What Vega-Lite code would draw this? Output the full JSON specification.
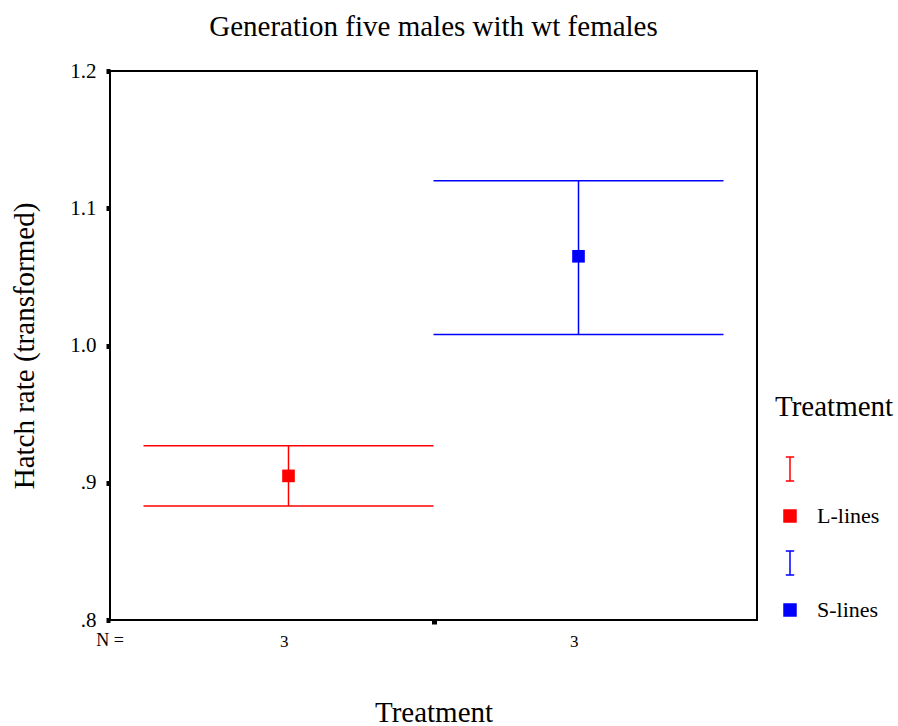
{
  "$schema": "https://vega.github.io/schema/vega-lite/v6.json",
  "width": 647,
  "height": 549,
  "autosize": "none",
  "padding": {"left": 110, "top": 71, "right": 141, "bottom": 106},
  "background": "white",
  "config": {
    "font": "Liberation Serif",
    "view": {"stroke": "black", "strokeWidth": 2},
    "axis": {"grid": false, "labelFont": "Liberation Serif", "titleFont": "Liberation Serif", "titleFontWeight": "normal", "labelColor": "black", "titleColor": "black"},
    "legend": {"labelFont": "Liberation Serif", "titleFont": "Liberation Serif", "titleFontWeight": "normal"}
  },
  "title": {
    "text": "Generation five males with wt females",
    "font": "Liberation Serif",
    "fontSize": 29,
    "fontWeight": "normal",
    "color": "black",
    "anchor": "middle",
    "offset": 18
  },
  "data": {
    "values": [
      {"Treatment": "L-lines", "mean": 0.905, "lower": 0.883, "upper": 0.927, "N": 3},
      {"Treatment": "S-lines", "mean": 1.065, "lower": 1.008, "upper": 1.12, "N": 3}
    ]
  },
  "layer": [
    {
      "layer": [
        {
          "mark": {"type": "rule", "strokeWidth": 1.5},
          "encoding": {
            "x": {"field": "Treatment", "type": "nominal"},
            "y": {"field": "lower", "type": "quantitative"},
            "y2": {"field": "upper"},
            "color": {"field": "Treatment", "type": "nominal", "title": "Treatment"}
          }
        },
        {
          "mark": {"type": "tick", "size": 290, "thickness": 1.5, "opacity": 1},
          "encoding": {
            "x": {"field": "Treatment", "type": "nominal"},
            "y": {"field": "lower", "type": "quantitative"},
            "color": {"field": "Treatment", "type": "nominal", "title": "Treatment"}
          }
        },
        {
          "mark": {"type": "tick", "size": 290, "thickness": 1.5, "opacity": 1},
          "encoding": {
            "x": {"field": "Treatment", "type": "nominal"},
            "y": {"field": "upper", "type": "quantitative"},
            "color": {"field": "Treatment", "type": "nominal", "title": "Treatment"}
          }
        },
        {
          "mark": {"type": "point", "filled": true, "opacity": 1, "size": 160},
          "encoding": {
            "x": {
              "field": "Treatment",
              "type": "nominal",
              "scale": {"paddingInner": 0, "paddingOuter": 0.1155},
              "axis": {
                "title": "Treatment",
                "titleFontSize": 29,
                "titlePadding": 49,
                "labelExpr": "'3'",
                "labelAngle": 0,
                "labelFontSize": 17,
                "labelPadding": 21,
                "ticks": false,
                "domain": false
              }
            },
            "y": {
              "field": "mean",
              "type": "quantitative",
              "scale": {"domain": [0.8, 1.2], "nice": false, "zero": false},
              "axis": {
                "title": "Hatch rate (transformed)",
                "titleFontSize": 29,
                "titlePadding": 30,
                "values": [0.8, 0.9, 1.0, 1.1, 1.2],
                "labelExpr": "datum.value < 1 ? substring(format(datum.value, '.1f'), 1) : format(datum.value, '.1f')",
                "labelFontSize": 21,
                "labelPadding": 10,
                "tickSize": 4,
                "tickWidth": 5,
                "tickColor": "black",
                "domain": false
              }
            },
            "color": {
              "field": "Treatment",
              "type": "nominal",
              "title": "Treatment",
              "scale": {
                "domain": ["L-bar", "L-lines", "S-bar", "S-lines"],
                "range": ["#ff0000", "#ff0000", "#0000ff", "#0000ff"]
              },
              "legend": {
                "orient": "none",
                "legendX": 665,
                "legendY": 322,
                "titleFontSize": 29,
                "titlePadding": 36,
                "labelFontSize": 22,
                "labelExpr": "indexof(datum.label, 'bar') >= 0 ? '' : datum.label",
                "labelOffset": 16,
                "symbolSize": 144,
                "symbolOffset": 4,
                "rowPadding": 21,
                "padding": 0,
                "symbolStrokeWidth": 1.5,
                "encode": {
                  "symbols": {
                    "update": {
                      "stroke": {"scale": "color", "field": "value"},
                      "strokeWidth": {"value": 1.5}
                    }
                  }
                }
              }
            },
            "shape": {
              "field": "Treatment",
              "type": "nominal",
              "title": "Treatment",
              "scale": {
                "domain": ["L-bar", "L-lines", "S-bar", "S-lines"],
                "range": ["M0,-2L0,2M-0.7,-2L0.7,-2M-0.7,2L0.7,2", "square", "M0,-2L0,2M-0.7,-2L0.7,-2M-0.7,2L0.7,2", "square"]
              }
            }
          }
        }
      ]
    },
    {
      "data": {"values": [{"label": "N ="}]},
      "mark": {"type": "text", "fontSize": 18, "dy": 21, "align": "center", "baseline": "middle", "color": "black", "font": "Liberation Serif"},
      "encoding": {
        "x": {
          "datum": 0,
          "type": "quantitative",
          "scale": {"domain": [0, 1], "nice": false, "zero": false},
          "axis": {"orient": "bottom", "values": [0.5], "labels": false, "domain": false, "grid": false, "title": null, "tickSize": 4, "tickWidth": 5, "tickColor": "black"}
        },
        "y": {"datum": 0.8, "type": "quantitative"},
        "text": {"field": "label"}
      }
    }
  ],
  "resolve": {"scale": {"x": "independent"}, "axis": {"x": "independent"}}
}
